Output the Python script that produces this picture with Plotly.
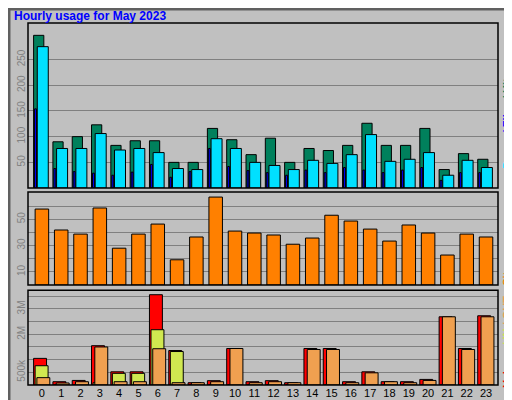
import plotly.graph_objects as go

hours = list(range(24))
hour_labels = [str(h) for h in hours]
hits = [297, 90, 100, 123, 83, 92, 92, 50, 50, 116, 94, 65, 97, 50, 77, 73, 83, 126, 83, 83, 116, 36, 67, 56]
files = [275, 77, 77, 106, 74, 77, 69, 38, 36, 96, 77, 50, 44, 36, 54, 48, 65, 104, 52, 56, 69, 25, 54, 40]
pages = [154, 38, 32, 29, 25, 31, 46, 21, 32, 77, 42, 34, 30, 25, 35, 30, 40, 35, 30, 35, 40, 15, 30, 30]
sites = [57.7, 41.8, 38.7, 58.5, 28, 38.7, 46.3, 19.2, 36.5, 66.8, 41, 39.5, 38, 31, 35.7, 53, 48.6, 42.5, 33.4, 45.6, 39.5, 22.8, 38.7, 36.5]
volume = [1.05, 0.13, 0.18, 1.55, 0.52, 0.52, 3.56, 1.36, 0.09, 0.17, 1.44, 0.13, 0.17, 0.09, 1.44, 1.44, 0.13, 0.52, 0.13, 0.13, 0.22, 2.69, 1.44, 2.73]
vol_in = [0.76, 0.0, 0.0, 0.09, 0.46, 0.46, 2.18, 1.32, 0.0, 0.0, 0.0, 0.0, 0.0, 0.0, 0.0, 0.0, 0.0, 0.0, 0.0, 0.0, 0.0, 0.0, 0.0, 0.0]
vol_out = [0.29, 0.08, 0.13, 1.50, 0.13, 0.13, 1.43, 0.09, 0.09, 0.13, 1.44, 0.09, 0.13, 0.09, 1.40, 1.40, 0.09, 0.48, 0.13, 0.09, 0.18, 2.69, 1.40, 2.69]

C_HITS, C_FILES, C_PAGES = "#00805C", "#0000FF", "#00E0FF"
C_SITES, C_VOL, C_IN, C_OUT = "#FF8000", "#FF0000", "#D0E850", "#F0A050"
BG = "#C0C0C0"
line = dict(color="black", width=1)

fig = go.Figure()
def bar(y, color, off, w, ya):
    fig.add_bar(x=hours, y=y, marker=dict(color=color, line=line), offset=off, width=w, yaxis=ya, xaxis="x", hoverinfo="skip")

bar(hits, C_HITS, -0.43, 0.53, "y")
bar(files, C_PAGES, -0.24, 0.57, "y")
bar(pages, C_FILES, -0.38, 0.1, "y")
bar(sites, C_SITES, -0.35, 0.7, "y2")
bar(volume, C_VOL, -0.43, 0.67, "y3")
bar(vol_in, C_IN, -0.35, 0.67, "y3")
bar(vol_out, C_OUT, -0.26, 0.67, "y3")

tickfont = dict(family="Liberation Sans", size=10, color="#808080")
ax = dict(showgrid=True, gridcolor="#808080", gridwidth=1, zeroline=False, tickangle=-90,
          tickfont=tickfont, showline=False, fixedrange=True, automargin=False, ticks="")
fig.update_layout(
    width=512, height=400, paper_bgcolor=BG, plot_bgcolor=BG,
    margin=dict(l=20, r=22, t=15, b=23, autoexpand=False), showlegend=False, barmode="overlay",
    xaxis=dict(range=[-0.72, 23.62], tickvals=hours, ticktext=hour_labels, showgrid=False,
               zeroline=False, tickfont=dict(family="Liberation Sans", size=11, color="black"),
               ticks="", anchor="y3", automargin=False),
    yaxis=dict(domain=[0.544, 1], range=[0, 321], tickvals=[50, 100, 150, 200, 250], **ax),
    yaxis2=dict(domain=[0.276, 0.533], range=[0, 70.6], tickvals=[10, 20, 30, 40, 50, 60],
                ticktext=["10", "", "30", "", "50", ""], **ax),
    yaxis3=dict(domain=[0, 0.262], range=[0, 3.74], tickvals=[0.5, 1, 1.5, 2, 2.5, 3, 3.5],
                ticktext=["500k", "", "", "2M", "", "3M", ""], **ax),
)
for d in [(0.544, 1), (0.276, 0.533), (0, 0.262)]:
    fig.add_shape(type="rect", xref="x domain", yref="paper", x0=0, x1=1, y0=d[0], y1=d[1],
                  line=dict(color="black", width=1.5))
fig.add_shape(type="rect", xref="paper", yref="paper", x0=-19/470, x1=1+21/470, y0=-22/362, y1=1+14/362,
              line=dict(color="#606060", width=3))
fig.add_annotation(text="<b>Hourly usage for May 2023</b>", xref="paper", yref="paper", x=-16/470, y=1+16/362,
                   xanchor="left", yanchor="top", showarrow=False,
                   font=dict(family="Liberation Sans", size=12, color="#0000FF"))
rf = dict(family="Liberation Sans", size=11)
def rlabel(html, y):
    fig.add_annotation(text=html, xref="paper", yref="paper", x=1+9/470, y=y, textangle=-90,
                       showarrow=False, xanchor="center", yanchor="middle", font=rf)
rlabel(f"<b><span style='color:{C_PAGES}'>Pages</span><span style='color:{C_FILES}'> / Files</span><span style='color:{C_HITS}'> / Hits</span></b>", 0.73)
rlabel(f"<b><span style='color:{C_SITES}'>Sites</span></b>", 0.31)
rlabel(f"<b><span style='color:{C_VOL}'>Volume</span><span style='color:{C_IN}'> / IN</span><span style='color:{C_OUT}'> / OUT</span></b>", 0.12)
fig.write_html("out.html")
